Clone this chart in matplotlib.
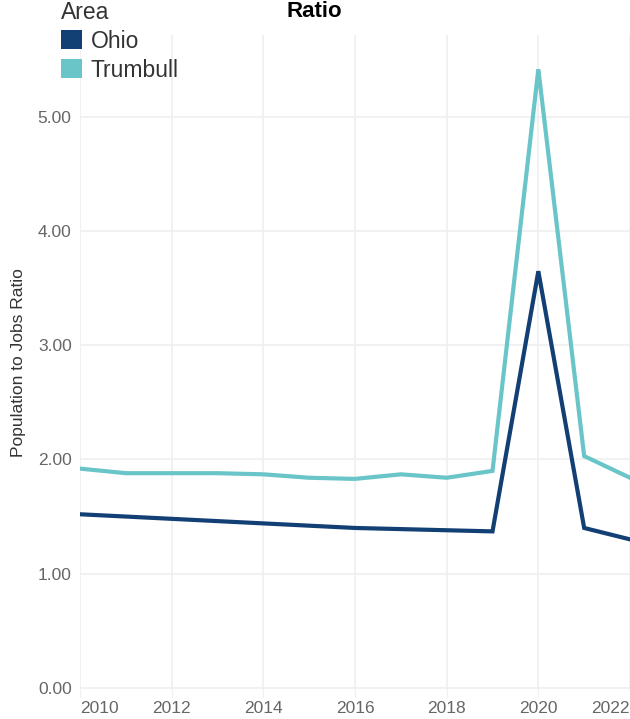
import matplotlib
matplotlib.use('Agg')
import matplotlib.pyplot as plt
from matplotlib.patches import Patch

plt.rcParams['font.family'] = ['Liberation Sans', 'DejaVu Sans']

# data
years = [2010, 2011, 2012, 2013, 2014, 2015, 2016, 2017, 2018, 2019, 2020, 2021, 2022]
ohio = [1.52, 1.50, 1.48, 1.46, 1.44, 1.42, 1.40, 1.39, 1.38, 1.37, 3.65, 1.40, 1.30]
trumbull = [1.92, 1.88, 1.88, 1.88, 1.87, 1.84, 1.83, 1.87, 1.84, 1.90, 5.42, 2.03, 1.84]
y_ticks = [0, 1, 2, 3, 4, 5]
x_ticks = [2010, 2012, 2014, 2016, 2018, 2020, 2022]

ohio_color = '#123f74'
trumbull_color = '#6ac5c8'

fig = plt.figure(figsize=(6.3, 7.19), dpi=100)
ax = fig.add_axes([80 / 630, 29 / 719, 550 / 630, 655 / 719])

ax.plot(years, ohio, color=ohio_color, lw=3, solid_joinstyle='miter', zorder=3)
ax.plot(years, trumbull, color=trumbull_color, lw=3, solid_joinstyle='miter', zorder=3)

ax.set_xlim(2010, 2022)
ax.set_ylim(-0.02, 5.72)
ax.set_xticks(x_ticks)
ax.set_yticks(y_ticks)
ax.set_yticklabels([f'{v:.2f}' for v in y_ticks])
ax.grid(True, color='#efefef', lw=1.2, zorder=0)
for s in ax.spines.values():
    s.set_visible(False)
ax.tick_params(axis='y', length=0, pad=6, labelsize=12.5, labelcolor='#666666')
ax.tick_params(axis='x', length=5, color='#efefef', pad=3, labelsize=12.5, labelcolor='#666666')
labels = ax.get_xticklabels()
labels[0].set_horizontalalignment('left')
labels[-1].set_horizontalalignment('right')

ax.set_ylabel('Population to Jobs Ratio', fontsize=12.5, color='#333333')
ax.yaxis.set_label_coords(-54 / 550, 0.5)

fig.text(314 / 630, 1 - 17 / 719, 'Ratio', ha='center', va='baseline',
         fontsize=16, fontweight='bold', color='black')

handles = [Patch(facecolor=ohio_color, edgecolor='none'),
           Patch(facecolor=trumbull_color, edgecolor='none')]
leg = fig.legend(handles, ['Ohio', 'Trumbull'], title='Area', loc='upper left',
                 bbox_to_anchor=(56 / 630, 1 + 4 / 719), frameon=False,
                 fontsize=16.5, title_fontsize=16.5, handlelength=0.92, handleheight=0.92,
                 handletextpad=0.4, labelspacing=0.26, borderpad=0.2, borderaxespad=0)
leg._legend_box.align = 'left'
for t in leg.get_texts():
    t.set_color('#333333')
leg.get_title().set_color('#333333')

fig.savefig('out.png', dpi=100)
